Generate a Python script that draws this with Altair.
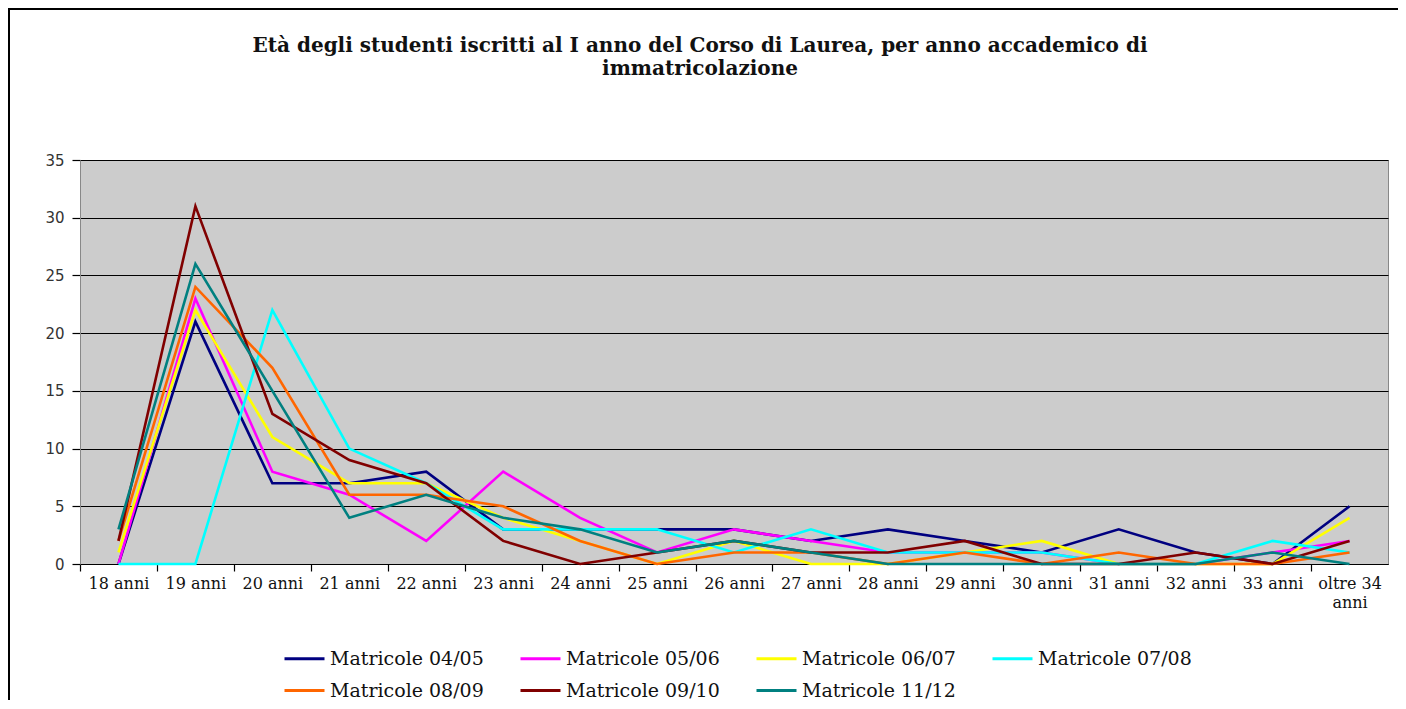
import altair as alt
import pandas as pd

categories = ["18 anni", "19 anni", "20 anni", "21 anni", "22 anni", "23 anni",
              "24 anni", "25 anni", "26 anni", "27 anni", "28 anni", "29 anni",
              "30 anni", "31 anni", "32 anni", "33 anni", "oltre 34 anni"]

series_names = ["Matricole 04/05", "Matricole 05/06", "Matricole 06/07",
                "Matricole 07/08", "Matricole 08/09", "Matricole 09/10",
                "Matricole 11/12"]

m0405 = [0, 21, 7, 7, 8, 3, 3, 3, 3, 2, 3, 2, 1, 3, 1, 0, 5]
m0506 = [0, 23, 8, 6, 2, 8, 4, 1, 3, 2, 1, 1, 1, 0, 0, 1, 2]
m0607 = [1, 22, 11, 7, 7, 4, 2, 0, 2, 0, 0, 1, 2, 0, 0, 0, 4]
m0708 = [0, 0, 22, 10, 7, 3, 3, 3, 1, 3, 1, 1, 1, 0, 0, 2, 1]
m0809 = [2, 24, 17, 6, 6, 5, 2, 0, 1, 1, 0, 1, 0, 1, 0, 0, 1]
m0910 = [2, 31, 13, 9, 7, 2, 0, 1, 2, 1, 1, 2, 0, 0, 1, 0, 2]
m1112 = [3, 26, 15, 4, 6, 4, 3, 1, 2, 1, 0, 0, 0, 0, 0, 1, 0]

series_values = [m0405, m0506, m0607, m0708, m0809, m0910, m1112]
series_colors = ["#000080", "#FF00FF", "#FFFF00", "#00FFFF", "#FF6600", "#800000", "#008080"]

y_ticks = [0, 5, 10, 15, 20, 25, 30, 35]

title_lines = ["Età degli studenti iscritti al I anno del Corso di Laurea, per anno accademico di",
               "immatricolazione"]

rows = []
for name, vals in zip(series_names, series_values):
    for cat, v in zip(categories, vals):
        rows.append({"eta": cat, "serie": name, "n": v})
df = pd.DataFrame(rows)

W, H = 1308, 404
band = W / len(categories)

lines = alt.Chart(df).mark_line(strokeWidth=2.6, clip=False).encode(
    x=alt.X("eta:N", sort=categories, title=None, bandPosition=0.5,
            scale=alt.Scale(type="band", paddingInner=0, paddingOuter=0),
            axis=alt.Axis(tickOffset=-band / 2, labelOffset=band / 2, labelAngle=0,
                          labelFont="DejaVu Serif", labelFontSize=16, labelColor="#111111",
                          labelOverlap=False, labelLimit=200, labelPadding=4,
                          labelLineHeight=19,
                          labelExpr="datum.label == 'oltre 34 anni' ? ['oltre 34', 'anni'] : datum.label",
                          tickColor="#000000", tickSize=7, tickWidth=1.2,
                          domainColor="#000000", domainWidth=1.2, grid=False)),
    y=alt.Y("n:Q", title=None,
            scale=alt.Scale(domain=[0, 35], nice=False),
            axis=alt.Axis(values=y_ticks, labelFont="DejaVu Sans", labelFontSize=15,
                          labelColor="#333333", labelPadding=8,
                          tickColor="#000000", tickSize=8, tickWidth=1.2,
                          domainColor="#888888", domainWidth=1,
                          grid=True, gridColor="#000000", gridWidth=1.2)),
    color=alt.Color("serie:N", sort=series_names,
                    scale=alt.Scale(domain=series_names, range=series_colors),
                    legend=alt.Legend(title=None, orient="none", legendX=203, legendY=477,
                                      direction="horizontal",
                                      columns=4, symbolType="stroke", symbolSize=1600,
                                      symbolStrokeWidth=3, labelFont="DejaVu Serif",
                                      labelFontSize=19, labelColor="#111111",
                                      labelOffset=4, columnPadding=30, rowPadding=0,
                                      labelLimit=300)),
)

frame_v = alt.Chart(df).mark_rule(color="#000000", strokeWidth=2, clip=False).encode(
    x=alt.value(-71), y=alt.value(-152), y2=alt.value(545))
frame_h = alt.Chart(df).mark_rule(color="#000000", strokeWidth=2, clip=False).encode(
    y=alt.value(-151), x=alt.value(-72), x2=alt.value(1330))

chart = alt.layer(frame_v, frame_h, lines).properties(
    width=W, height=H,
    autosize=alt.AutoSizeParams(type="none"),
    padding={"left": 72, "top": 152, "right": 10, "bottom": 136},
    title=alt.TitleParams(text=title_lines, font="DejaVu Serif", fontSize=20,
                          fontWeight="bold", color="#111111", lineHeight=23,
                          anchor="middle", frame="group", dx=-34, offset=-72),
).configure_view(fill="#CCCCCC", stroke="#888888", strokeWidth=1)

chart.save("out.html", embed_options={"renderer": "svg", "actions": False})
